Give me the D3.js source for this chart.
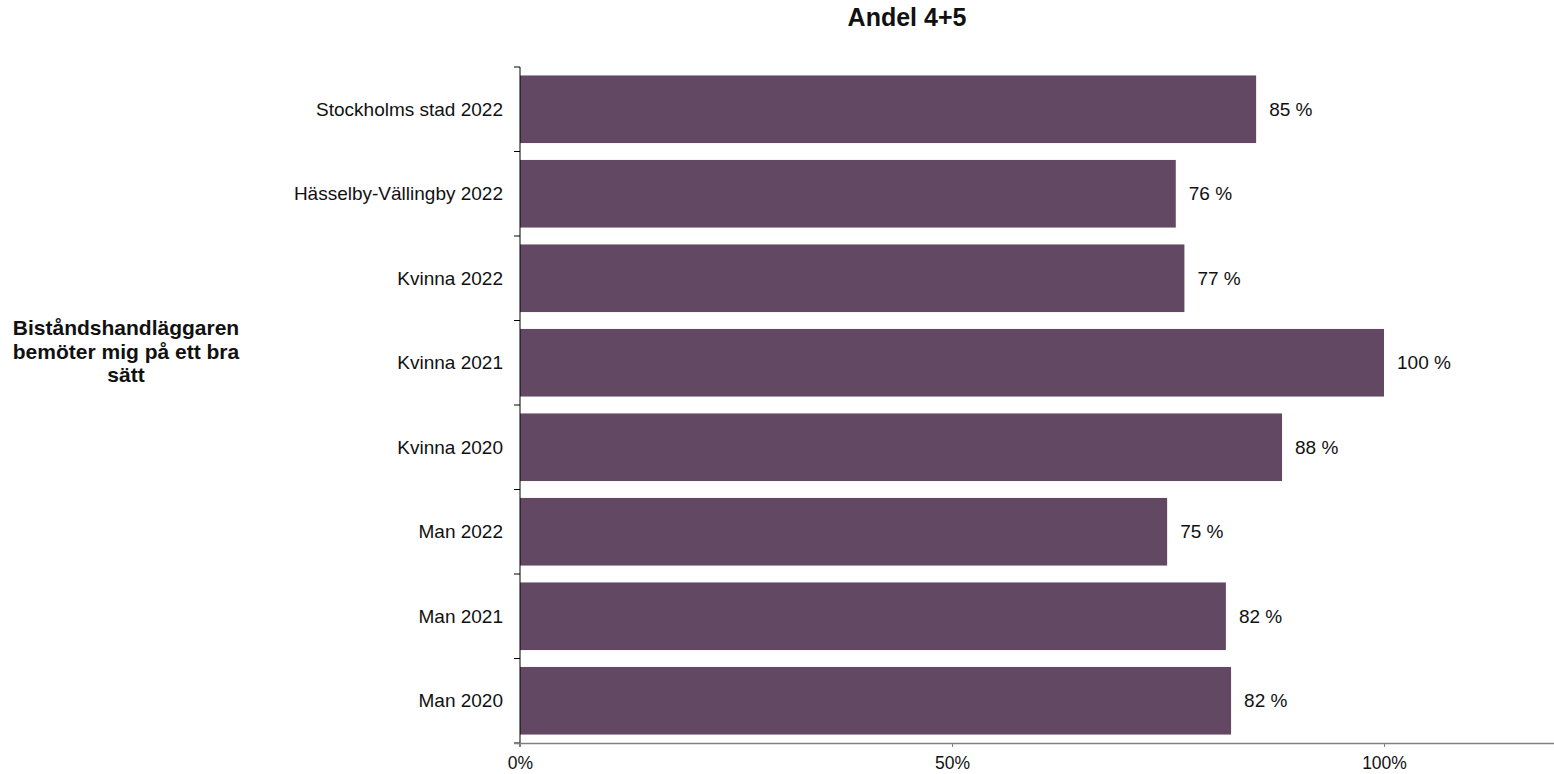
<!DOCTYPE html>
<html lang="sv">
<head>
<meta charset="UTF-8">
<title>Andel 4+5</title>
<script src="https://cdn.jsdelivr.net/npm/d3@7/dist/d3.min.js"></script>
<style>
  body{ margin:0; background:#fff; font-family:"Liberation Sans", Arial, sans-serif; }
  svg text{ fill:#111; }
</style>
</head>
<body>
<script>
// data
var categories = ['Stockholms stad 2022','Hässelby-Vällingby 2022','Kvinna 2022','Kvinna 2021',
                  'Kvinna 2020','Man 2022','Man 2021','Man 2020'];
var values = [0.852, 0.759, 0.769, 1.0, 0.882, 0.749, 0.817, 0.823];
var valueLabels = ['85 %','76 %','77 %','100 %','88 %','75 %','82 %','82 %'];
var xTicks = [0, 0.5, 1];
var xTickLabels = ['0%','50%','100%'];
var title = 'Andel 4+5';
var groupLabel = ['Biståndshandläggaren','bemöter mig på ett bra','sätt'];

var width = 1554, height = 774;
var margin = {top:67, left:520, bottom:31, right:0};

var svg = d3.select('body').append('svg')
    .attr('width', width).attr('height', height);

var x = d3.scaleLinear().domain([0, 1.2]).range([margin.left, margin.left + 864*1.2]);
var y = d3.scaleBand().domain(categories)
    .range([margin.top, height - margin.bottom])
    .paddingInner(0.2).paddingOuter(0.1);

// bars
svg.selectAll('.bar').data(categories).enter().append('rect')
    .attr('class','bar')
    .attr('x', x(0))
    .attr('y', function(d){ return y(d); })
    .attr('width', function(d,i){ return x(values[i]) - x(0); })
    .attr('height', y.bandwidth())
    .attr('fill','#634863');

// value labels
svg.selectAll('.val').data(categories).enter().append('text')
    .attr('x', function(d,i){ return x(values[i]) + 13; })
    .attr('y', function(d){ return y(d) + y.bandwidth()/2; })
    .attr('dy','0.35em')
    .style('font-size','19px')
    .text(function(d,i){ return valueLabels[i]; });

// y axis: boundaries between categories
var step = y.step();
var bounds = d3.range(categories.length + 1).map(function(i){ return margin.top + i*step; });
svg.append('line')
    .attr('x1', x(0)).attr('x2', x(0))
    .attr('y1', bounds[0]).attr('y2', bounds[bounds.length-1] + 4)
    .attr('stroke','#000');
svg.selectAll('.ytick').data(bounds).enter().append('line')
    .attr('x1', x(0) - 6).attr('x2', x(0))
    .attr('y1', function(d){ return d; }).attr('y2', function(d){ return d; })
    .attr('stroke','#000');

svg.selectAll('.cat').data(categories).enter().append('text')
    .attr('x', x(0) - 17)
    .attr('y', function(d){ return y(d) + y.bandwidth()/2; })
    .attr('dy','0.35em')
    .attr('text-anchor','end')
    .style('font-size','19px')
    .text(function(d){ return d; });

// x axis
var xBase = bounds[bounds.length-1];
var xAxis = d3.axisBottom(x).tickValues(xTicks)
    .tickFormat(function(d,i){ return xTickLabels[i]; })
    .tickSize(4).tickSizeOuter(0);
var gx = svg.append('g').attr('transform','translate(0,' + xBase + ')').call(xAxis);
gx.select('.domain').attr('d', 'M' + (x(0) - 6) + ',0.5H' + width).attr('stroke','#808080').attr('stroke-width',1.5);
gx.selectAll('.tick line').attr('stroke','#808080');
gx.selectAll('.tick text').attr('dy', null).attr('y', 26)
    .style('font-size','17.5px').style('font-family','"Liberation Sans", Arial, sans-serif').attr('fill','#111');

// title
svg.append('text')
    .attr('x', 907).attr('y', 26)
    .attr('text-anchor','middle')
    .style('font-size','25px').style('font-weight','bold')
    .text(title);

// group label
svg.append('text')
    .attr('x', 126).attr('y', 335)
    .attr('text-anchor','middle')
    .style('font-size','21px').style('font-weight','bold')
    .selectAll('tspan').data(groupLabel).enter().append('tspan')
    .attr('x', 126)
    .attr('dy', function(d,i){ return i ? 23.5 : 0; })
    .text(function(d){ return d; });
</script>
</body>
</html>
